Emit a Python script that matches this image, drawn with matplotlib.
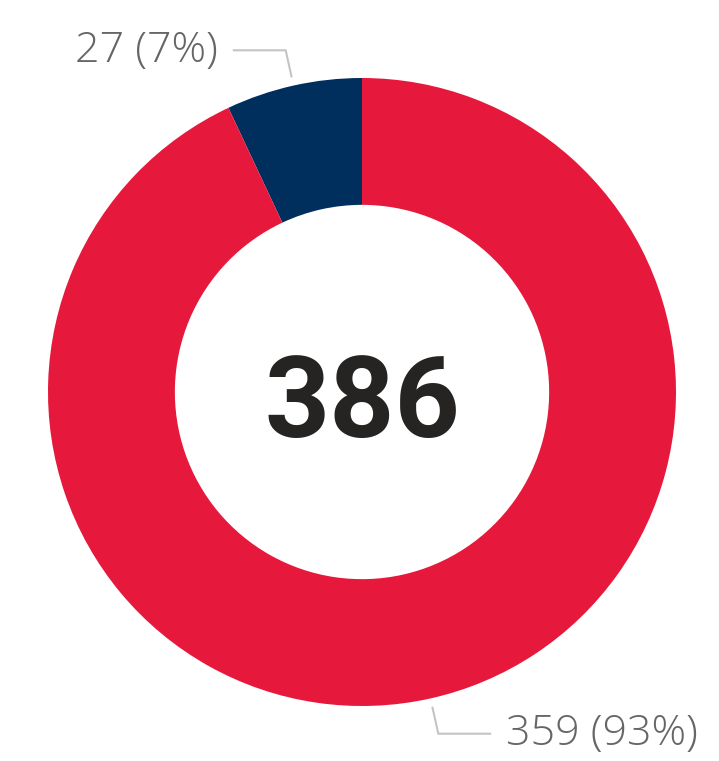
import numpy as np
import matplotlib
matplotlib.use("Agg")
import matplotlib.pyplot as plt

labels = ["27 (7%)", "359 (93%)"]
values = [27, 359]
colors = ["#002E5D", "#E6193C"]
total = sum(values)

W, H = 719, 761
cx, cy, R = 362, 392, 314

fig = plt.figure(figsize=(W / 100, H / 100), dpi=100)
ax = fig.add_axes([0, 0, 1, 1])

wedges, _ = ax.pie(values, colors=colors, startangle=90, counterclock=True,
                   radius=1.0, wedgeprops=dict(width=0.404, edgecolor="none"))

ax.set_aspect("auto")
ax.set_xlim(-cx / R, (W - cx) / R)
ax.set_ylim(-(H - cy) / R, cy / R)
ax.axis("off")

# leader lines + labels
for w, lab in zip(wedges, labels):
    ang = np.deg2rad((w.theta1 + w.theta2) / 2)
    x0, y0 = 1.03 * np.cos(ang), 1.03 * np.sin(ang)
    x1, y1 = 1.115 * np.cos(ang), 1.115 * np.sin(ang)
    side = 1 if x1 > 0 else -1
    x2 = x1 + side * 0.165
    ax.plot([x0, x1, x2], [y0, y1, y1], color="#C4C4C4", lw=1.5,
            solid_joinstyle="miter")
    ax.text(x2 + side * 0.05, y1, lab, ha="left" if side > 0 else "right",
            va="center", fontsize=31, color="#666666", family="Open Sans",
            fontweight="light")

ax.text(0, -0.143, str(total), ha="center", va="baseline", fontsize=82,
        fontweight="bold", color="#252423", family="Roboto")

fig.savefig("out.png", dpi=100)
